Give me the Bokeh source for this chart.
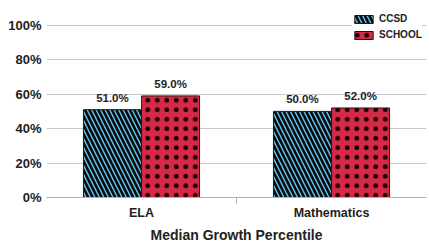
from bokeh.plotting import figure
from bokeh.models import (ColumnDataSource, FixedTicker, PrintfTickFormatter,
                          Legend, LegendItem, LabelSet, Range1d)
from bokeh.core.properties import value
from bokeh.embed import file_html
from bokeh.resources import INLINE

categories = ["ELA", "Mathematics"]
ccsd = [51.0, 50.0]
school = [59.0, 52.0]
y_ticks = [0, 20, 40, 60, 80, 100]
x_title = "Median Growth Percentile"
series_names = ["CCSD", "SCHOOL"]

centers = [i + 0.5 for i in range(len(categories))]
offset = 0.153
bw = 0.305

src_c = ColumnDataSource(dict(x=[c - offset for c in centers], y=ccsd,
                              lab=["%.1f%%" % v for v in ccsd]))
src_s = ColumnDataSource(dict(x=[c + offset for c in centers], y=school,
                              lab=["%.1f%%" % v for v in school]))

FONT = "Liberation Sans"

# frame extends above the 100% line so the legend (upper right) is not clipped
p = figure(width=429, height=245, output_backend="svg",
           toolbar_location=None,
           x_range=Range1d(0, len(categories)), y_range=Range1d(0, 111.5),
           min_border_left=46, min_border_right=3, min_border_top=5,
           min_border_bottom=46)
p.outline_line_color = None
p.background_fill_color = "white"

r1 = p.vbar(x="x", top="y", width=bw, source=src_c, fill_color="#62C3EE",
            line_color="#1a1a1a", line_width=1,
            hatch_pattern="\\", hatch_color="#0a0a0a", hatch_scale=9,
            hatch_weight=2.6)
r2 = p.vbar(x="x", top="y", width=bw, source=src_s, fill_color="#D42A48",
            line_color="#1a1a1a", line_width=1,
            hatch_pattern=".", hatch_color="#1a0000", hatch_scale=9.5,
            hatch_weight=0.4)

for src in (src_c, src_s):
    p.add_layout(LabelSet(x="x", y="y", text="lab", source=src,
                          text_align="center", text_baseline="bottom",
                          y_offset=6, text_font=value(FONT),
                          text_font_size="11.5px",
                          text_font_style="bold", text_color="#222222"))

# y axis
p.yaxis.ticker = FixedTicker(ticks=y_ticks)
p.yaxis.formatter = PrintfTickFormatter(format="%d%%")
p.yaxis.axis_line_color = None
p.yaxis.major_tick_line_color = None
p.yaxis.minor_tick_line_color = None
p.yaxis.major_tick_out = 0
p.yaxis.major_label_standoff = 5
p.yaxis.major_label_text_font = FONT
p.yaxis.major_label_text_font_size = "13px"
p.yaxis.major_label_text_font_style = "bold"
p.yaxis.major_label_text_color = "#222222"

p.ygrid.ticker = FixedTicker(ticks=y_ticks)
p.ygrid.grid_line_color = "#c8c8c8"
p.ygrid.grid_line_width = 1
p.xgrid.grid_line_color = None

# x axis
p.xaxis.ticker = FixedTicker(ticks=centers, minor_ticks=[1])
p.xaxis.major_label_overrides = {c: n for c, n in zip(centers, categories)}
p.xaxis.axis_line_color = "#b0b0b0"
p.xaxis.major_tick_line_color = None
p.xaxis.major_tick_out = 0
p.xaxis.major_tick_in = 0
p.xaxis.minor_tick_line_color = "#b0b0b0"
p.xaxis.minor_tick_out = 6
p.xaxis.minor_tick_in = 0
p.xaxis.major_label_standoff = 2
p.xaxis.major_label_text_font = FONT
p.xaxis.major_label_text_font_size = "12.5px"
p.xaxis.major_label_text_font_style = "bold"
p.xaxis.major_label_text_color = "#222222"
p.xaxis.axis_label = x_title
p.xaxis.axis_label_standoff = 4
p.xaxis.axis_label_text_font = FONT
p.xaxis.axis_label_text_font_size = "14px"
p.xaxis.axis_label_text_font_style = "bold"
p.xaxis.axis_label_text_color = "#222222"

legend = Legend(items=[LegendItem(label=series_names[0], renderers=[r1]),
                       LegendItem(label=series_names[1], renderers=[r2])],
                location=(306, 157), orientation="vertical",
                glyph_width=23, glyph_height=10, spacing=5, padding=0,
                margin=0, label_standoff=4,
                label_text_font=FONT, label_text_font_size="10px",
                label_text_font_style="bold", label_text_color="#222222",
                label_height=11,
                border_line_color=None, background_fill_color="white",
                background_fill_alpha=1.0)
p.add_layout(legend)

open("out.html", "w").write(file_html(p, INLINE))
